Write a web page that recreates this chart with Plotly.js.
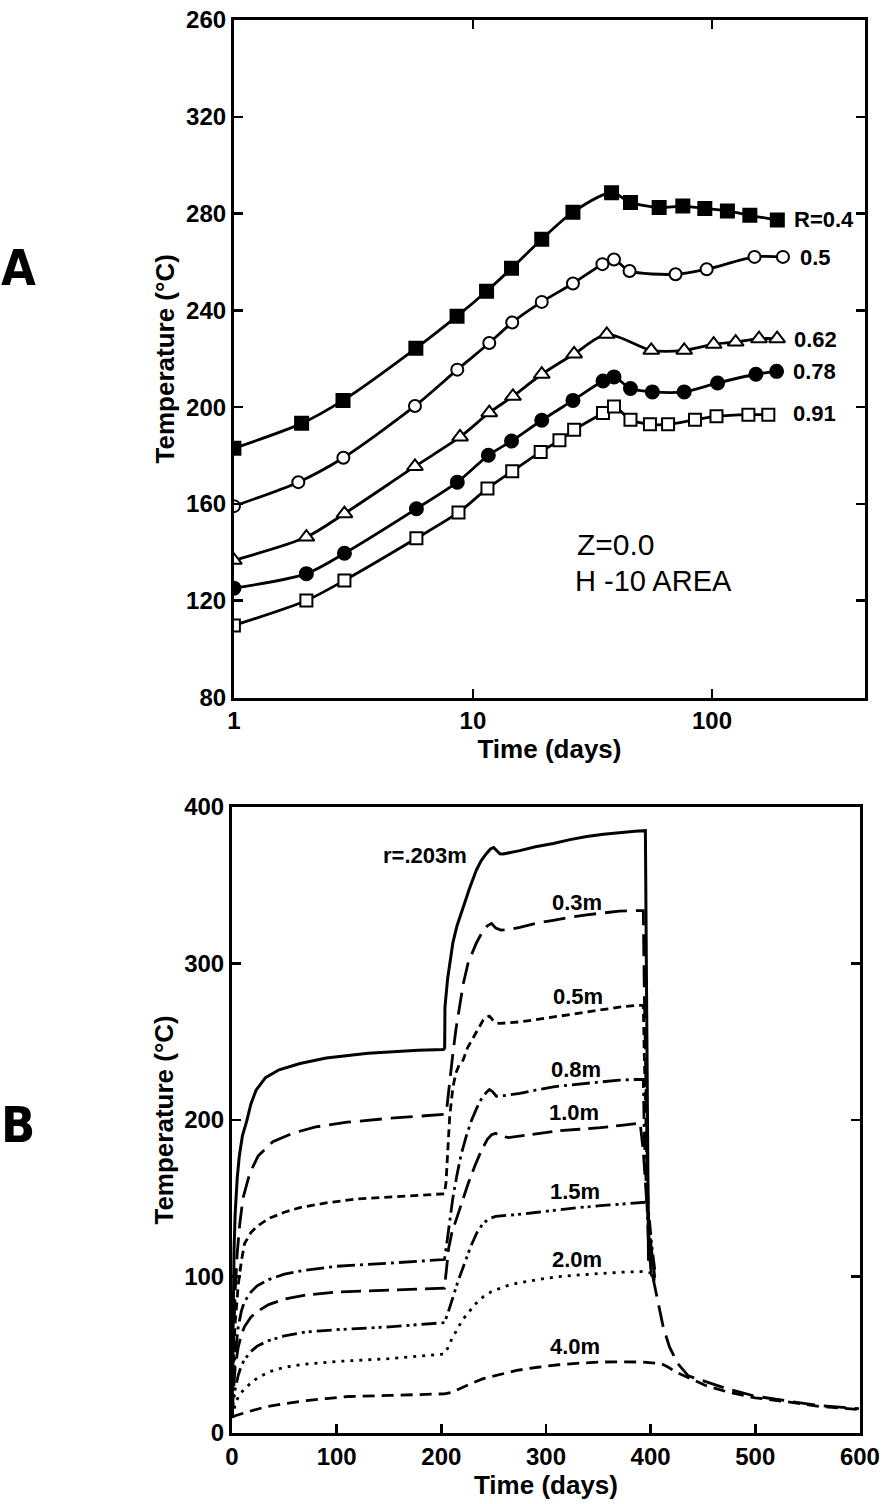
<!DOCTYPE html>
<html>
<head>
<meta charset="utf-8">
<script src="https://cdn.plot.ly/plotly-3.0.1.min.js"></script>
<style>html,body{margin:0;padding:0;background:#fff;}#chart{width:884px;height:1504px;}</style>
</head>
<body>
<div id="chart"></div>
<script>
// ---------- Panel A (log time) ----------
const timeR04 = [1, 1.92, 2.86, 5.77, 8.58, 11.4, 14.5, 19.4, 26.2, 38, 45.6, 60.1, 75.5, 93.3, 116, 144, 187.6];
const tempR04 = [183, 193.3, 202.8, 224.3, 237.6, 247.9, 257.4, 269.4, 280.6, 288.6, 284.6, 282.5, 283.1, 282.1, 281.1, 279.3, 277.3];
const timeR05 = [1, 1.86, 2.87, 5.72, 8.6, 11.7, 14.6, 19.4, 26.2, 34.8, 38.9, 45.2, 70.4, 95, 150.6, 198];
const tempR05 = [159.1, 169, 179.1, 200.5, 215.5, 226.5, 235, 243.5, 251.1, 259.1, 261, 256.3, 254.9, 257, 262.1, 262.1];
const timeR062 = [1, 2.01, 2.9, 5.72, 8.83, 11.7, 14.7, 19.4, 26.5, 36.3, 55.7, 76.5, 101.6, 125.6, 157.3, 187.2];
const tempR062 = [136.7, 146.3, 156, 175.5, 187.7, 197.7, 204.5, 213.6, 222, 230.1, 223.5, 223.5, 226, 226.9, 228.3, 228.3];
const timeR078 = [1, 2.01, 2.9, 5.8, 8.6, 11.6, 14.5, 19.4, 26.2, 35, 38.9, 45.6, 56.3, 76.5, 105.5, 152.6, 186.3];
const tempR078 = [125.2, 131.2, 139.6, 158, 169, 180.1, 186, 194.6, 202.8, 210.8, 212.5, 207.7, 206.3, 206.3, 210, 213.6, 214.8];
const timeR091 = [1, 2.01, 2.9, 5.8, 8.7, 11.5, 14.6, 19.2, 23, 26.5, 35, 38.9, 45.6, 55, 65.5, 84.9, 104.4, 142, 172];
const tempR091 = [109.8, 120.1, 128.4, 145.8, 156.5, 166.4, 173.5, 181.5, 186.3, 190.7, 197.6, 200.3, 194.8, 192.9, 192.9, 194.8, 196.2, 196.9, 196.9];
const labelsA = ["R=0.4", "0.5", "0.62", "0.78", "0.91"];
const yTickValsA = [80, 120, 160, 200, 240, 280, 320, 360];
const yTickTextA = ["80", "120", "160", "200", "240", "280", "320", "260"];
const xTickValsA = [1, 10, 100];
const xTickTextA = ["1", "10", "100"];

// ---------- Panel B (linear time) ----------
const tR0203 = [0, 1, 2, 3, 5, 7, 10, 14, 18, 23, 32, 45, 65, 90, 130, 178, 202, 203.2, 203.5, 206, 208.5, 211, 215, 220.7, 227, 233.5, 238, 243, 247, 250, 253, 256, 259, 265, 275, 290, 307, 323, 339, 355, 370, 385, 395, 396, 397, 398];
const vR0203 = [12, 75, 118, 140, 163, 177, 190, 199, 210, 219, 227, 232, 236, 239.5, 242.5, 244.5, 245, 246, 272, 290, 302, 313, 324, 336, 348, 359.6, 365.5, 370, 373, 374, 372, 370, 369.8, 370.6, 372, 374.5, 376.5, 379, 381, 382.5, 383.6, 384.3, 384.7, 300, 200, 110];
const tR03 = [0, 1, 3, 5, 7.5, 10.5, 17, 25, 39, 58, 80, 110, 150, 180, 203, 205, 208, 211, 214, 217.5, 221, 225.5, 233.5, 240, 244, 248, 252, 257, 265, 275, 290, 307, 323, 339, 355, 370, 385, 393, 394, 396, 398, 402, 404, 408, 412, 418, 426, 436, 452, 472, 500, 533, 561, 599];
const vR03 = [12, 50, 90, 115, 134, 150, 166, 177, 186, 191.5, 195.5, 198.5, 201, 202.3, 203.5, 206, 225, 242, 258, 272, 287, 300, 313, 321, 324, 325.5, 322.5, 321.2, 321.5, 323, 325.5, 327.5, 329.5, 331, 332.3, 333.3, 333.6, 333.7, 280, 200, 130, 100, 93.5, 80.6, 67.8, 55, 44.3, 36.5, 33, 28.5, 23.5, 20, 17.5, 15.5];
const tR05 = [0, 1, 3, 6, 9, 12, 18, 24, 35, 50, 65, 90, 120, 150, 180, 203, 204.5, 206, 208, 211.1, 214, 217, 220.7, 225, 230, 235, 240, 243, 246, 249, 252, 256, 265, 275, 290, 307, 323, 339, 355, 370, 385, 393, 394, 396, 398, 401];
const vR05 = [12, 40, 70, 95, 110, 121, 128, 132, 137, 141, 144, 147, 149.5, 150.8, 151.8, 152.8, 160, 178, 202, 221, 230, 235, 238, 246, 252, 258, 263.7, 265.5, 266.3, 264, 262, 261.6, 262, 262.6, 264, 265.8, 267.5, 269, 270.5, 272, 273, 273.3, 240, 180, 130, 100];
const tR08 = [0, 1, 3, 6, 9, 12, 18, 24, 35, 50, 70, 100, 150, 203, 205, 208, 211, 215, 219, 224, 229, 233.5, 238, 243, 246, 249, 252.6, 260, 275, 290, 307, 323, 339, 355, 370, 385, 393, 394, 396, 398, 401];
const vR08 = [12, 30, 50, 68, 78, 84, 90, 94, 98, 101.5, 104, 106.5, 108.5, 110.8, 120, 135, 150, 165, 178, 190, 200, 207, 213, 217.5, 219.4, 218, 215.1, 215.5, 216.9, 219, 221.1, 222.3, 223.3, 224.4, 225.4, 225.8, 225.8, 190, 150, 120, 100];
const tR10 = [0, 1, 3, 6, 9, 12, 18, 24, 35, 50, 70, 100, 150, 203, 205, 207, 210, 215, 220, 226, 232, 238, 244, 248, 252, 256, 264, 280, 296, 312, 332, 352, 372, 390, 393, 396, 400, 404];
const vR10 = [12, 25, 42, 55, 63, 68, 74, 77.5, 82, 85.5, 88, 90, 91.2, 92.5, 105, 118, 127.7, 138, 149, 160, 170.5, 180, 187.6, 190.5, 191.4, 190, 188.7, 190, 191.5, 193, 194, 195, 196.5, 197.9, 180, 150, 122, 99];
const tR15 = [0, 1, 3, 6, 9, 12, 18, 24, 35, 50, 70, 100, 150, 203, 206, 210, 216, 222, 228, 234, 240, 246, 252, 262, 272, 292, 312, 332, 352, 372, 392, 397, 399, 401, 404];
const vR15 = [10, 18, 28, 37, 43, 47, 52, 55.5, 59, 62, 64.5, 66, 67.8, 70.5, 76, 85, 97, 108, 119, 128, 134, 137, 138.4, 139, 139.5, 141, 142.7, 144, 145.2, 146.3, 147.4, 147.5, 135, 120, 104];
const tR20 = [0, 1, 3, 6, 9, 12, 18, 24, 35, 50, 70, 100, 150, 203, 206, 210, 215, 220, 226, 232, 240, 248, 260, 272, 292, 312, 332, 352, 372, 392, 402, 404];
const vR20 = [10, 13, 18, 23, 26, 28, 32, 35, 39, 42, 44, 45.7, 47.5, 50.5, 54, 60, 66, 72, 77, 82, 87, 90.3, 93.5, 95.6, 98, 99.9, 101, 102, 102.7, 103.1, 102, 96];
const tR40 = [0, 3, 15, 31, 50, 71, 90, 111.5, 150, 203, 210, 216, 228, 240, 256, 272, 292, 312, 332, 352, 372, 392, 410, 417, 424, 438, 452, 472, 500, 533, 561, 599];
const vR40 = [10, 11, 13.5, 16.5, 18.7, 20.7, 22, 23.3, 24, 25, 26, 28, 31.5, 34.7, 37.5, 40, 42, 43.6, 44.6, 45.3, 45.5, 45.3, 44.3, 42, 39, 35, 30.5, 26.5, 22.5, 19.7, 17, 15];
const labelsB = ["r=.203m", "0.3m", "0.5m", "0.8m", "1.0m", "1.5m", "2.0m", "4.0m"];
const xTickValsB = [0, 100, 200, 300, 400, 500, 600];
const yTickValsB = [0, 100, 200, 300, 400];

const K = '#000';
const FAM = 'Liberation Sans, Arial, DejaVu Sans';
function mk(x, y, sym, fill, size) {
  return {x: x, y: y, xaxis: 'x', yaxis: 'y', type: 'scatter', mode: 'lines+markers',
    line: {color: K, width: 2.8, shape: 'spline', smoothing: 0.8},
    marker: {symbol: sym, size: size, color: fill, line: {color: K, width: 2}},
    hoverinfo: 'skip', showlegend: false};
}
function ln(x, y, dash, w) {
  return {x: x, y: y, xaxis: 'x2', yaxis: 'y2', type: 'scatter', mode: 'lines',
    line: {color: K, width: w || 2.8, dash: dash}, hoverinfo: 'skip', showlegend: false};
}
const data = [
  mk(timeR04, tempR04, 'square', K, 13),
  mk(timeR05, tempR05, 'circle', '#fff', 12),
  mk(timeR062, tempR062, 'triangle-up', '#fff', 14),
  mk(timeR078, tempR078, 'circle', K, 13),
  mk(timeR091, tempR091, 'square', '#fff', 12),
  ln(tR0203, vR0203, 'solid', 3),
  ln(tR03, vR03, '22px,9px'),
  ln(tR05, vR05, '8px,5px'),
  ln(tR08, vR08, '18px,5px,3px,5px'),
  ln(tR10, vR10, '20px,8px'),
  ln(tR15, vR15, '15px,5px,3px,4px,3px,5px'),
  ln(tR20, vR20, '3px,6px'),
  ln(tR40, vR40, '12px,7px')
];

const lg = v => Math.log10(v);
const fontTxt = {family: FAM, size: 22, color: K, weight: 'bold'};
const annA = [
  {x: lg(216), y: 277.5, t: labelsA[0]},
  {x: lg(228), y: 262, t: labelsA[1]},
  {x: lg(216), y: 227.8, t: labelsA[2]},
  {x: lg(213), y: 214.7, t: labelsA[3]},
  {x: lg(213), y: 197.5, t: labelsA[4]}
].map(a => ({x: a.x, y: a.y, text: a.t, xref: 'x', yref: 'y', xanchor: 'left', yanchor: 'middle', showarrow: false, font: fontTxt}));
const annB = [
  [184, 369], [330, 339], [330.5, 279], [329, 232.3], [327, 205], [328, 154], [330, 111], [328, 55.5]
].map((p, i) => ({x: p[0], y: p[1], text: labelsB[i], xref: 'x2', yref: 'y2', xanchor: 'center', yanchor: 'middle', showarrow: false, font: {family: FAM, size: 22, color: K, weight: 'bold'}}));
const annOther = [
  {x: lg(26.8), y: 143.1, text: 'Z=0.0', xref: 'x', yref: 'y', xanchor: 'left', yanchor: 'middle', showarrow: false, font: {family: FAM, size: 30, color: K}},
  {x: lg(26.1), y: 128.2, text: 'H -10 AREA', xref: 'x', yref: 'y', xanchor: 'left', yanchor: 'middle', showarrow: false, font: {family: FAM, size: 29, color: K}},
  {x: -0.338, y: 0.8245, text: 'A', xref: 'paper', yref: 'paper', xanchor: 'center', yanchor: 'middle', showarrow: false, font: {family: 'Liberation Sans Narrow, DejaVu Sans Condensed, Liberation Sans', size: 50, color: K, weight: 'bold'}},
  {x: -0.338, y: 0.218, text: 'B', xref: 'paper', yref: 'paper', xanchor: 'center', yanchor: 'middle', showarrow: false, font: {family: 'Liberation Sans Narrow, DejaVu Sans Condensed, Liberation Sans', size: 50, color: K, weight: 'bold'}}
];

const axBase = {showgrid: false, zeroline: false, showline: true, linecolor: K, linewidth: 3,
  ticks: 'inside', ticklen: 9, tickwidth: 2.5, tickcolor: K, tickfont: {family: FAM, size: 24, color: K, weight: 'bold'}};
const titleFont = {family: FAM, size: 26, color: K, weight: 'bold'};
const layout = {
  width: 884, height: 1504, paper_bgcolor: '#fff', plot_bgcolor: '#fff',
  margin: {l: 232, r: 19, t: 20, b: 71},
  font: {family: FAM, color: K},
  xaxis: Object.assign({}, axBase, {domain: [0.003, 1], anchor: 'y', type: 'log', range: [0, 2.64],
    tickvals: xTickValsA, ticktext: xTickTextA, mirror: 'ticks',
    title: {text: 'Time (days)', font: titleFont, standoff: 0}}),
  yaxis: Object.assign({}, axBase, {domain: [0.5205, 1], anchor: 'x', range: [80, 360],
    tickvals: yTickValsA, ticktext: yTickTextA, mirror: 'ticks',
    title: {text: 'Temperature (°C)', font: titleFont, standoff: 4}}),
  xaxis2: Object.assign({}, axBase, {domain: [0, 0.992], anchor: 'y2', range: [0, 600],
    tickvals: xTickValsB, mirror: true,
    title: {text: 'Time (days)', font: titleFont, standoff: 2}}),
  yaxis2: Object.assign({}, axBase, {domain: [0, 0.4432], anchor: 'x2', range: [0, 400],
    tickvals: yTickValsB, mirror: 'ticks',
    title: {text: 'Temperature (°C)', font: titleFont, standoff: 4}}),
  annotations: annA.concat(annB, annOther)
};
Plotly.newPlot('chart', data, layout, {displayModeBar: false, staticPlot: true});
</script>
</body>
</html>
